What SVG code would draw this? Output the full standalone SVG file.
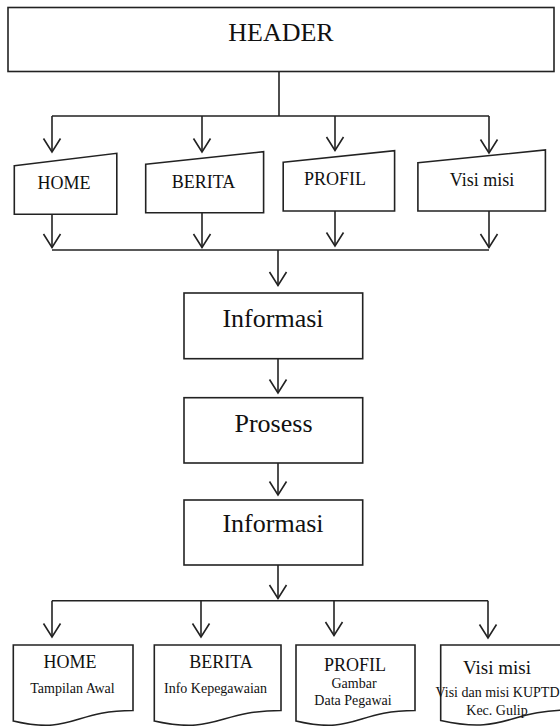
<svg xmlns="http://www.w3.org/2000/svg" width="560" height="726" viewBox="0 0 560 726">
<style>
.s{fill:#fff;stroke:#222;stroke-width:1.6}
.c{fill:none;stroke:#222;stroke-width:1.6}
.a{fill:none;stroke:#222;stroke-width:1.6;marker-end:url(#arr)}
text{font-family:'Liberation Serif','DejaVu Serif',serif;fill:#111;text-anchor:middle}
.t18{font-size:18px}
.t26{font-size:26px}
.t14{font-size:14px}
.t19{font-size:19px}
</style>
<defs>
<marker id="arr" markerUnits="userSpaceOnUse" markerWidth="20" markerHeight="20" viewBox="-15 -10 17 20" refX="0" refY="0" orient="auto">
<path d="M-13.5,-8.5 L0,0 L-13.5,8.5" fill="none" stroke="#222" stroke-width="1.6"/>
</marker>
</defs>
<g id="connectors">
<path class="c" d="M279,71.5 V116 M52,116 H489"/>
<path class="a" d="M52,116 V152"/>
<path class="a" d="M202,116 V152"/>
<path class="a" d="M335,116 V150.5"/>
<path class="a" d="M489,116 V153"/>
<path class="a" d="M52,214.3 V247.5"/>
<path class="a" d="M202,212.7 V247.5"/>
<path class="a" d="M335,211 V246"/>
<path class="a" d="M489,211 V247.5"/>
<path class="c" d="M52,250 H489"/>
<path class="a" d="M278,250 V285.5"/>
<path class="a" d="M278,358.7 V393"/>
<path class="a" d="M278,463 V495"/>
<path class="a" d="M278,565 V598.5"/>
<path class="c" d="M52,600.7 H488"/>
<path class="a" d="M52,600.7 V637"/>
<path class="a" d="M201,600.7 V637"/>
<path class="a" d="M334,600.7 V635.5"/>
<path class="a" d="M488,600.7 V638"/>
</g>
<g id="header">
<rect class="s" x="8" y="7.5" width="546" height="64"/>
<text class="t26" x="281" y="40.5" font-family="Liberation Serif, serif">HEADER</text>
</g>
<g id="in-home">
<path class="s" d="M14.3,165.7 L116.8,153.3 V214.3 H14.3 Z"/>
<text class="t18" x="64" y="189.3">HOME</text>
</g>
<g id="in-berita">
<path class="s" d="M145.7,164.3 L263.6,151.7 V212.7 H145.7 Z"/>
<text class="t18" x="203.6" y="187.7">BERITA</text>
</g>
<g id="in-profil">
<path class="s" d="M283.2,162.3 L394.6,150.7 V211 H283.2 Z"/>
<text class="t18" x="335" y="185">PROFIL</text>
</g>
<g id="in-visi">
<path class="s" d="M417.9,162.7 L545.4,150 V211 H417.9 Z"/>
<text class="t18" x="482" y="186">Visi misi</text>
</g>
<g id="informasi1">
<rect class="s" x="184" y="293" width="178.7" height="65.7"/>
<text class="t26" x="273" y="326.7">Informasi</text>
</g>
<g id="prosess">
<rect class="s" x="184" y="397.7" width="178.7" height="65.3"/>
<text class="t26" x="273.5" y="431.5">Prosess</text>
</g>
<g id="informasi2">
<rect class="s" x="184" y="500" width="178.7" height="65"/>
<text class="t26" x="273" y="532.3">Informasi</text>
</g>
<g id="out-home">
<path class="s" d="M13.3,645 H133 V710.5 C73,710.5 73,735 13.3,721 Z"/>
<text class="t18" x="70" y="668">HOME</text>
<text class="t14" x="72.5" y="693">Tampilan Awal</text>
</g>
<g id="out-berita">
<path class="s" d="M154.3,645 H281 V710.5 C217.5,710.5 217.5,735 154.3,721 Z"/>
<text class="t18" x="221" y="668">BERITA</text>
<text class="t14" x="215.5" y="693">Info Kepegawaian</text>
</g>
<g id="out-profil">
<path class="s" d="M296,645 H415 V710.5 C355.5,710.5 355.5,735 296,721 Z"/>
<text class="t18" x="355" y="671">PROFIL</text>
<text class="t14" x="354" y="688">Gambar</text>
<text class="t14" x="353" y="705">Data Pegawai</text>
</g>
<g id="out-visi">
<path class="s" d="M440.7,645 H572 V710 C506,710 506,735 440.7,720.5 Z"/>
<text class="t19" x="497" y="674">Visi misi</text>
<text class="t14" x="497.5" y="697">Visi dan misi KUPTD</text>
<text class="t14" x="497" y="714.5">Kec. Gulip</text>
</g>
</svg>
